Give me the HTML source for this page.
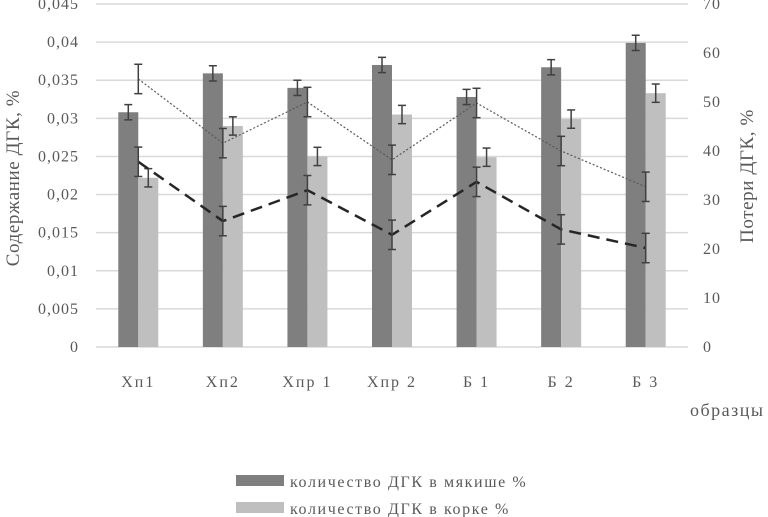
<!DOCTYPE html>
<html><head><meta charset="utf-8"><style>
html,body{margin:0;padding:0;background:#fff;}
svg{display:block;font-family:"Liberation Serif","DejaVu Serif",serif;}
</style></head><body>
<svg id="chart" width="768" height="517" xmlns="http://www.w3.org/2000/svg">
<g id="grid"></g>
<g id="bars"></g>
<g id="lines"></g>
<g id="axes"></g>
<text transform="translate(19,178) rotate(-90)" text-anchor="middle" font-size="19" letter-spacing="0.6" fill="#595959">Содержание ДГК, %</text>
<text transform="translate(753,176) rotate(-90)" text-anchor="middle" font-size="19" letter-spacing="0.6" fill="#595959">Потери ДГК, %</text>
<text x="690" y="416" font-size="18" letter-spacing="1.5" fill="#595959">образцы</text>
<g>
<rect x="236" y="475" width="48" height="11" fill="#7f7f7f"/>
<text x="290" y="487" font-size="16" letter-spacing="1.6" fill="#595959">количество ДГК в мякише %</text>
<rect x="236" y="502" width="48" height="11" fill="#bfbfbf"/>
<text x="290" y="514" font-size="16" letter-spacing="1.6" fill="#595959">количество ДГК в корке %</text>
</g>
</svg>
<script>
const categories=["Хп1","Хп2","Хпр 1","Хпр 2","Б 1","Б 2","Б 3"];
const crumb=[0.0308,0.0359,0.034,0.037,0.0328,0.0367,0.0399];
const crust=[0.0222,0.029,0.025,0.0305,0.0249,0.0299,0.0333];
const lossDotted=[54.7,41.6,50,38.2,49.8,40,32.7];
const lossDashed=[37.8,25.7,32,22.9,33.7,24,20.2];
const leftTicks=["0","0,005","0,01","0,015","0,02","0,025","0,03","0,035","0,04","0,045"];
const rightTicks=["0","10","20","30","40","50","60","70"];
const NS="http://www.w3.org/2000/svg";
const X0=96,X1=688,Y0=347,YT=4;
const band=(X1-X0)/categories.length;
const cx=i=>X0+band*(i+0.5);
const yL=v=>Y0-(v/0.045)*(Y0-YT);
const yR=v=>Y0-(v/70)*(Y0-YT);
function mk(tag,attrs,parent){const e=document.createElementNS(NS,tag);for(const k in attrs)e.setAttribute(k,attrs[k]);parent.appendChild(e);return e;}
const grid=document.getElementById('grid'),bars=document.getElementById('bars'),lines=document.getElementById('lines'),axes=document.getElementById('axes');
leftTicks.forEach((t,i)=>{const y=yL(i*0.005);
 const g=mk('line',{x1:X0,x2:X1,y1:y,y2:y,stroke:'#d9d9d9','stroke-width':1.5},grid);
 
 
 const tx=mk('text',{x:79,y:y+5,'text-anchor':'end','font-size':16,'letter-spacing':1,fill:'#595959'},axes);tx.textContent=t;
 
 
});
rightTicks.forEach((t,i)=>{const y=yR(i*10);
 const tx=mk('text',{x:703,y:y+5,'font-size':16,'letter-spacing':1,fill:'#595959'},axes);tx.textContent=t;
 
 
});
categories.forEach((c,i)=>{const tx=mk('text',{x:cx(i),y:387,'text-anchor':'middle','font-size':16,'letter-spacing':2,fill:'#595959'},axes);tx.textContent=c;
 
 
});
function err(x,y1,y2,p){mk('line',{x1:x,x2:x,y1:y1,y2:y2,stroke:'#404040','stroke-width':1.5},p);
 mk('line',{x1:x-4,x2:x+4,y1:y1,y2:y1,stroke:'#404040','stroke-width':1.5},p);
 mk('line',{x1:x-4,x2:x+4,y1:y2,y2:y2,stroke:'#404040','stroke-width':1.5},p);}
const bw=20;
categories.forEach((c,i)=>{
 const x=cx(i);
 const r1=mk('rect',{x:x-bw,y:yL(crumb[i]),width:bw,height:Y0-yL(crumb[i]),fill:'#7f7f7f'},bars);
 
 
 const r2=mk('rect',{x:x,y:yL(crust[i]),width:bw,height:Y0-yL(crust[i]),fill:'#bfbfbf'},bars);
 
 
 err(x-bw/2,yL(crumb[i]+0.001),yL(crumb[i]-0.001),bars);
 err(x+bw/2,yL(crust[i]+0.0012),yL(crust[i]-0.0012),bars);
});
function series(vals,dash,w,color,name){
 const p=mk('polyline',{points:vals.map((v,i)=>cx(i)+','+yR(v)).join(' '),fill:'none',stroke:color,'stroke-width':w,'stroke-dasharray':dash},lines);
 
 
 vals.forEach((v,i)=>err(cx(i),yR(v+3),yR(v-3),lines));
}
series(lossDotted,'2,2',1.2,'#595959','line-loss-dotted');
series(lossDashed,'12,7',2.5,'#262626','line-loss-dashed');
</script>
</body></html>
